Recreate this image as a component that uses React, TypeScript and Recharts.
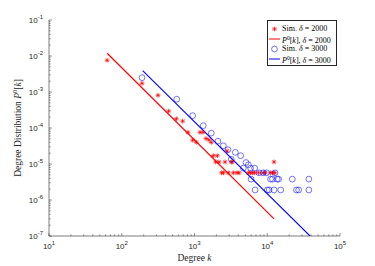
import React from "react";
import { ComposedChart, Scatter, Line, XAxis, YAxis, Legend } from "recharts";

// simulated degree distribution, delta = 2000  [k, P]
const sim2000 = [
  [63, 7.6e-3], [190, 1.75e-3], [315, 8.1e-4], [441, 2.95e-4], [563, 1.8e-4],
  [687, 1.55e-4], [813, 7.6e-5], [943, 4.6e-5], [1060, 4.0e-5], [1190, 7.6e-5],
  [1310, 7.6e-5], [1440, 5.1e-5], [1580, 4.7e-5], [1700, 4.0e-5], [1815, 1.7e-5],
  [2060, 1.7e-5], [1950, 1.14e-5], [2170, 1.14e-5], [2630, 1.14e-5], [2360, 5.7e-6],
  [2500, 5.7e-6], [2800, 2.3e-5], [2920, 5.7e-6], [3210, 1.14e-5], [3300, 1.14e-5],
  [3420, 5.7e-6], [3840, 5.7e-6], [4100, 5.7e-6], [5500, 5.7e-6], [5900, 5.7e-6],
  [6300, 5.7e-6], [6700, 5.7e-6], [7600, 5.7e-6], [8800, 5.7e-6], [9400, 5.7e-6],
  [11100, 5.7e-6], [12000, 5.7e-6], [12400, 1.14e-5], [12700, 5.7e-6],
];

// simulated degree distribution, delta = 3000
const sim3000 = [
  [190, 2.5e-3], [569, 6.3e-4], [944, 2.2e-4], [1320, 1.16e-4], [1700, 7.2e-5],
  [2100, 4.3e-5], [2490, 3.2e-5], [2880, 2.5e-5], [3200, 1.35e-5], [3640, 2.1e-5],
  [4310, 1.7e-5], [4690, 7.7e-6], [5100, 1.1e-5], [5500, 9.5e-6], [5900, 7.7e-6],
  [6700, 7.7e-6], [6000, 3.8e-6], [6800, 1.9e-6], [7700, 5.7e-6], [8800, 5.7e-6],
  [9800, 5.7e-6], [10000, 1.9e-6], [10600, 1.9e-6], [11100, 3.8e-6], [11800, 3.8e-6],
  [12400, 1.9e-6], [12800, 5.7e-6], [13700, 3.8e-6], [14300, 3.8e-6], [15300, 1.9e-6],
  [22100, 3.8e-6], [25200, 1.9e-6], [27000, 1.9e-6], [37300, 3.8e-6], [37300, 1.9e-6],
];

// analytic P0[k] lines (end points)
const theory2000 = [[63, 1.19e-2], [12400, 3.0e-7]];
const theory3000 = [[194, 3.92e-3], [38700, 1.0e-7]];

const xExponents = [1, 2, 3, 4, 5];
const yExponents = [-7, -6, -5, -4, -3, -2, -1];
const minorSteps = [2, 3, 4, 5, 6, 7, 8, 9];

const toPts = (arr: number[][]) => arr.map(([k, p]) => ({ k, p }));

const buildTicks = (exps: number[]) => {
  const out: number[] = [];
  exps.forEach((e, i) => {
    out.push(Math.pow(10, e));
    if (i < exps.length - 1) minorSteps.forEach((m) => out.push(m * Math.pow(10, e)));
  });
  return out;
};

const xTicks = buildTicks(xExponents);
const yTicks = buildTicks(yExponents);

const AX = "#262626";
const SANS = "'Liberation Sans', Arial, Helvetica, sans-serif";
const SERIF = "'Liberation Serif', 'Times New Roman', serif";
const RED = "#ff0000";
const BLUE = "#0000ff";

const expOf = (v: number) => Math.log10(v);
const isMajor = (v: number) => Math.abs(expOf(v) - Math.round(expOf(v))) < 1e-6;

function BottomTick(props: any) {
  const { x, y, payload } = props;
  const v = payload.value;
  const major = isMajor(v);
  return (
    <g>
      <line x1={x} x2={x} y1={y} y2={y - (major ? 3 : 1.6)} stroke={AX} strokeWidth={0.5} />
      {major && (
        <text x={x} y={y + 12.5} textAnchor="middle" fontSize={8} fill={AX} fontFamily={SANS}>
          10<tspan dy={-3.8} fontSize={6}>{Math.round(expOf(v))}</tspan>
        </text>
      )}
    </g>
  );
}

function TopTick(props: any) {
  const { x, y, payload } = props;
  const major = isMajor(payload.value);
  return <line x1={x} x2={x} y1={y} y2={y + (major ? 3 : 1.6)} stroke={AX} strokeWidth={0.5} />;
}

function LeftTick(props: any) {
  const { x, y, payload } = props;
  const v = payload.value;
  const major = isMajor(v);
  return (
    <g>
      <line x1={x} x2={x + (major ? 3 : 1.6)} y1={y} y2={y} stroke={AX} strokeWidth={0.5} />
      {major && (
        <text x={x - 6} y={y + 3} textAnchor="end" fontSize={8} fill={AX} fontFamily={SANS}>
          10<tspan dy={-3.8} fontSize={6}>{Math.round(expOf(v))}</tspan>
        </text>
      )}
    </g>
  );
}

function RightTick(props: any) {
  const { x, y, payload } = props;
  const major = isMajor(payload.value);
  return <line x1={x} x2={x - (major ? 3 : 1.6)} y1={y} y2={y} stroke={AX} strokeWidth={0.5} />;
}

function Star(props: any) {
  const { cx, cy } = props;
  const r = 2.4;
  const d = r * 0.72;
  return (
    <g stroke={RED} strokeWidth={0.7}>
      <line x1={cx - r} x2={cx + r} y1={cy} y2={cy} />
      <line x1={cx} x2={cx} y1={cy - r} y2={cy + r} />
      <line x1={cx - d} x2={cx + d} y1={cy - d} y2={cy + d} />
      <line x1={cx - d} x2={cx + d} y1={cy + d} y2={cy - d} />
    </g>
  );
}

function Ring(props: any) {
  const { cx, cy } = props;
  return <circle cx={cx} cy={cy} r={2.9} fill="none" stroke={BLUE} strokeWidth={0.55} />;
}

function LegendBox() {
  const row = (icon: React.ReactNode, label: React.ReactNode, key: number) => (
    <div key={key} style={{ display: "flex", alignItems: "center", height: 10 }}>
      <svg width={11} height={10} style={{ flex: "none" }}>{icon}</svg>
      <span style={{ marginLeft: 2, whiteSpace: "nowrap" }}>{label}</span>
    </div>
  );
  const theo = (d: string) => (
    <>
      <i>P</i>
      <sup style={{ fontSize: 5.5, verticalAlign: 3 }}>0</sup>[<i>k</i>], <i>δ</i> = {d}
    </>
  );
  return (
    <div
      style={{
        border: `1px solid ${AX}`,
        background: "#fff",
        width: 70,
        height: 46,
        boxSizing: "border-box",
        padding: "3px 0 0 1px",
        fontFamily: SERIF,
        fontSize: 8,
        color: "#000",
        lineHeight: "10px",
      }}
    >
      {row(<Star cx={5.5} cy={5} />, <>Sim. <i>δ</i> = 2000</>, 0)}
      {row(<line x1={0} x2={11} y1={5} y2={5} stroke={RED} strokeWidth={1} />, theo("2000"), 1)}
      {row(<Ring cx={5.5} cy={5} />, <>Sim. <i>δ</i> = 3000</>, 2)}
      {row(<line x1={0} x2={11} y1={5} y2={5} stroke={BLUE} strokeWidth={1} />, theo("3000"), 3)}
    </div>
  );
}

export default function App() {
  return (
    <div style={{ position: "absolute", left: 0, top: 0, width: 375, height: 266, background: "#fff" }}>
      <ComposedChart width={375} height={266} margin={{ top: 20, right: 35, bottom: 0, left: 0 }}>
        <XAxis
          dataKey="k"
          type="number"
          scale="log"
          domain={[10, 100000]}
          allowDataOverflow
          ticks={xTicks}
          interval={0}
          height={30}
          tickSize={0}
          tickMargin={0}
          tickLine={false}
          stroke={AX}
          strokeWidth={0.6}
          tick={(p: any) => <BottomTick {...p} />}
          label={{
            content: (lp: any) => {
              const vb = lp.viewBox;
              return (
                <text x={vb.x + vb.width / 2} y={vb.y + 25} textAnchor="middle" fontSize={9.5} fontFamily={SERIF} fill={AX}>
                  Degree <tspan fontStyle="italic">k</tspan>
                </text>
              );
            },
          }}
        />
        <XAxis
          xAxisId="top"
          orientation="top"
          type="number"
          scale="log"
          domain={[10, 100000]}
          allowDataOverflow
          ticks={xTicks}
          interval={0}
          height={0}
          tickSize={0}
          tickMargin={0}
          tickLine={false}
          stroke={AX}
          strokeWidth={0.6}
          tick={(p: any) => <TopTick {...p} />}
        />
        <YAxis
          dataKey="p"
          type="number"
          scale="log"
          domain={[1e-7, 0.1]}
          allowDataOverflow
          ticks={yTicks}
          interval={0}
          width={49}
          tickSize={0}
          tickMargin={0}
          tickLine={false}
          stroke={AX}
          strokeWidth={0.6}
          tick={(p: any) => <LeftTick {...p} />}
          label={{
            content: (lp: any) => {
              const vb = lp.viewBox;
              const cx = 21;
              const cy = vb.y + vb.height / 2;
              return (
                <text
                  x={cx}
                  y={cy}
                  transform={`rotate(-90 ${cx} ${cy})`}
                  textAnchor="middle"
                  fontSize={9.5}
                  fontFamily={SERIF}
                  fill={AX}
                >
                  Degree Distribution <tspan fontStyle="italic">P</tspan>
                  <tspan dy={-3.8} fontSize={6.5}>0</tspan>
                  <tspan dy={3.8}>[</tspan>
                  <tspan fontStyle="italic">k</tspan>]
                </text>
              );
            },
          }}
        />
        <YAxis
          yAxisId="right"
          orientation="right"
          type="number"
          scale="log"
          domain={[1e-7, 0.1]}
          allowDataOverflow
          ticks={yTicks}
          interval={0}
          width={0}
          tickSize={0}
          tickMargin={0}
          tickLine={false}
          stroke={AX}
          strokeWidth={0.6}
          tick={(p: any) => <RightTick {...p} />}
        />
        <Line data={toPts(theory2000)} dataKey="p" stroke={RED} strokeWidth={1.2} dot={false} activeDot={false} isAnimationActive={false} />
        <Line data={toPts(theory3000)} dataKey="p" stroke={BLUE} strokeWidth={1.1} dot={false} activeDot={false} isAnimationActive={false} />
        <Scatter data={toPts(sim2000)} dataKey="p" shape={<Star />} isAnimationActive={false} />
        <Scatter data={toPts(sim3000)} dataKey="p" shape={<Ring />} isAnimationActive={false} />
        <Legend
          layout="vertical"
          align="center"
          verticalAlign="middle"
          wrapperStyle={{ top: 20, left: 267, width: 70, height: 46 }}
          content={() => <LegendBox />}
        />
      </ComposedChart>
    </div>
  );
}
